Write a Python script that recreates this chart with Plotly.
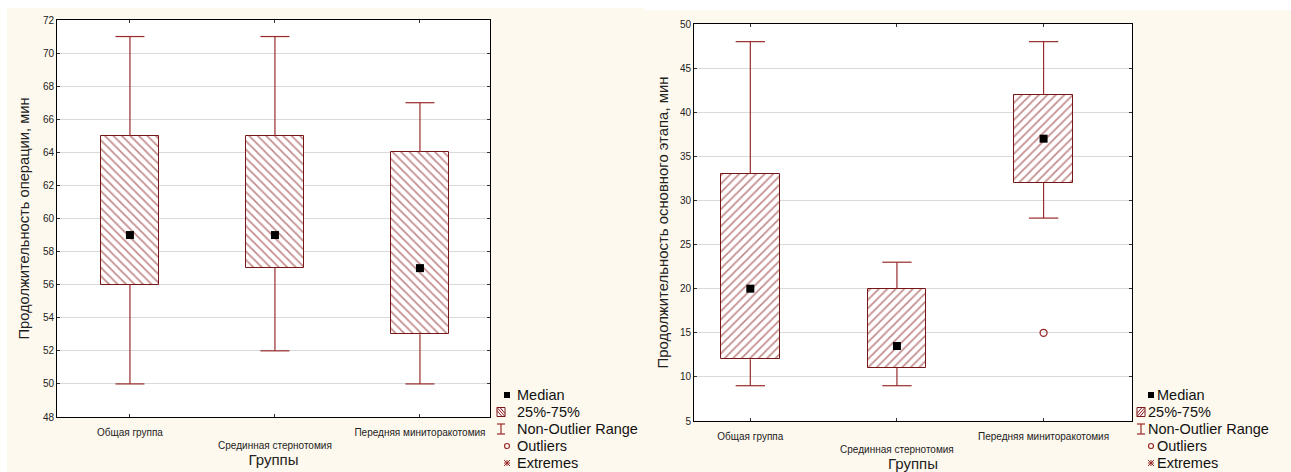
import plotly.graph_objects as go

W, H = 1291, 472

groups = ["Общая группа", "Срединная стернотомия", "Передняя миниторакотомия"]
group_ticks = ["Общая группа", "<br>Срединная стернотомия", "Передняя миниторакотомия"]

# Продолжительность операции, мин
op_min = [50, 52, 50]
op_q1 = [56, 57, 53]
op_med = [59, 59, 57]
op_q3 = [65, 65, 64]
op_max = [71, 71, 67]

# Продолжительность основного этапа, мин
st_min = [9, 9, 28]
st_q1 = [12, 11, 32]
st_med = [20, 13.5, 37]
st_q3 = [33, 20, 42]
st_max = [48, 23, 48]
st_out_group = [2]
st_out_val = [15]

legend_labels = ["Median", "25%-75%", "Non-Outlier Range", "Outliers", "Extremes"]

CREAM = "#fef9ee"
BOX_EDGE = "#761616"
HATCH = "#8a1c1c"
WHISK = "#9a2a2a"
FONT = "Liberation Sans, Arial, sans-serif"


def px(x):
    return x / W


def py(y):
    return 1 - y / H


def whiskers(lo, q1, q3, hi, half=0.1):
    xs, ys = [], []
    for i in range(len(lo)):
        xs += [i, i, None, i - half, i + half, None, i, i, None, i - half, i + half, None]
        ys += [lo[i], q1[i], None, lo[i], lo[i], None, q3[i], hi[i], None, hi[i], hi[i], None]
    return xs, ys


fig = go.Figure()


def add_panel(lo, q1, med, q3, hi, hatch, xa, ya):
    cats = list(range(len(groups)))
    fig.add_trace(go.Bar(
        x=cats, y=[b - a for a, b in zip(q1, q3)], base=q1, width=0.4,
        marker=dict(color="white", line=dict(color=BOX_EDGE, width=1),
                    pattern=dict(shape=hatch, fgcolor=HATCH, bgcolor="white",
                                 size=6, solidity=0.3)),
        xaxis=xa, yaxis=ya, showlegend=False, hoverinfo="skip"))
    wx, wy = whiskers(lo, q1, q3, hi)
    fig.add_trace(go.Scatter(x=wx, y=wy, mode="lines", line=dict(color=WHISK, width=1.2),
                             xaxis=xa, yaxis=ya, showlegend=False, hoverinfo="skip"))
    fig.add_trace(go.Scatter(x=cats, y=med, mode="markers",
                             marker=dict(symbol="square", size=8, color="black"),
                             xaxis=xa, yaxis=ya, showlegend=False))


add_panel(op_min, op_q1, op_med, op_q3, op_max, "\\", "x", "y")
add_panel(st_min, st_q1, st_med, st_q3, st_max, "/", "x2", "y2")
fig.add_trace(go.Scatter(x=st_out_group, y=st_out_val, mode="markers",
                         marker=dict(symbol="circle-open", size=7, color=WHISK, line=dict(width=1.3)),
                         xaxis="x2", yaxis="y2", showlegend=False))

axis_common = dict(showline=True, linecolor="black", linewidth=1, mirror="ticks",
                   ticks="inside", ticklen=3, tickcolor="#333", automargin=False,
                   tickfont=dict(family=FONT, size=10, color="#222"), zeroline=False)

fig.update_layout(
    width=W, height=H, margin=dict(l=0, r=0, t=0, b=0, pad=0),
    paper_bgcolor="white", plot_bgcolor="white", showlegend=False,
    bargap=0,
    xaxis=dict(domain=[px(57), px(490)], range=[-0.503, 2.483], tickvals=[0, 1, 2],
               ticktext=group_ticks, showgrid=False, anchor="y", ticklabelstandoff=6,
               title=dict(text="Группы", font=dict(family=FONT, size=15, color="#222"), standoff=4),
               **axis_common),
    yaxis=dict(domain=[py(417), py(20)], range=[48, 72], dtick=2, anchor="x",
               showgrid=True, gridcolor="#dadada", gridwidth=1,
               title=dict(text="Продолжительность операции, мин",
                          font=dict(family=FONT, size=14.7, color="#222"), standoff=9),
               **axis_common),
    xaxis2=dict(domain=[px(694), px(1132)], range=[-0.384, 2.603], tickvals=[0, 1, 2],
                ticktext=group_ticks, showgrid=False, anchor="y2", ticklabelstandoff=6,
                title=dict(text="Группы", font=dict(family=FONT, size=15, color="#222"), standoff=4),
                **axis_common),
    yaxis2=dict(domain=[py(421), py(24)], range=[5, 50], dtick=5, anchor="x2",
                showgrid=True, gridcolor="#dadada", gridwidth=1,
                title=dict(text="Продолжительность основного этапа, мин",
                           font=dict(family=FONT, size=14.9, color="#222"), standoff=7),
                **axis_common),
)

shapes = [
    dict(type="rect", xref="paper", yref="paper", x0=px(7), x1=px(645), y0=0, y1=py(8),
         fillcolor=CREAM, line=dict(width=0), layer="below"),
    dict(type="rect", xref="paper", yref="paper", x0=px(645), x1=1, y0=0, y1=py(10),
         fillcolor=CREAM, line=dict(width=0), layer="below"),
    dict(type="rect", xref="x domain", yref="y domain", x0=0, x1=1, y0=0, y1=1,
         fillcolor="white", line=dict(width=0), layer="below"),
    dict(type="rect", xref="x2 domain", yref="y2 domain", x0=0, x1=1, y0=0, y1=1,
         fillcolor="white", line=dict(width=0), layer="below"),
]
annotations = []


def seg(x0, y0, x1, y1, color, width=1.0):
    shapes.append(dict(type="line", xref="paper", yref="paper", x0=px(x0), y0=py(y0),
                       x1=px(x1), y1=py(y1), line=dict(color=color, width=width)))


def legend(box_x, text_x, text_x2, hatch_dir, med_x):
    rows = [395, 412, 429, 446, 463]
    # Median
    shapes.append(dict(type="rect", xref="paper", yref="paper",
                       x0=px(med_x - 3), x1=px(med_x + 3), y0=py(rows[0] + 3), y1=py(rows[0] - 3),
                       fillcolor="black", line=dict(width=0)))
    # 25%-75%
    x0, x1, y0, y1 = box_x, box_x + 8, rows[1] - 4.5, rows[1] + 4.5
    shapes.append(dict(type="rect", xref="paper", yref="paper", x0=px(x0), x1=px(x1),
                       y0=py(y1), y1=py(y0), fillcolor="white",
                       line=dict(color=BOX_EDGE, width=1)))
    if hatch_dir == "\\":
        seg(x0, y0 + 3, x1 - 3, y1, HATCH)
        seg(x0 + 3, y0, x1, y1 - 3, HATCH)
        seg(x0, y0, x1, y1, HATCH)
    else:
        seg(x0, y1 - 3, x1 - 3, y0, HATCH)
        seg(x0 + 3, y1, x1, y0 + 3, HATCH)
        seg(x0, y1, x1, y0, HATCH)
    # Non-Outlier Range
    cx = box_x + 4
    seg(cx, rows[2] - 5, cx, rows[2] + 5, WHISK, 1.2)
    seg(cx - 4, rows[2] - 5, cx + 4, rows[2] - 5, WHISK, 1.2)
    seg(cx - 4, rows[2] + 5, cx + 4, rows[2] + 5, WHISK, 1.2)
    # Outliers
    shapes.append(dict(type="circle", xref="paper", yref="paper",
                       x0=px(med_x - 2.5), x1=px(med_x + 2.5), y0=py(rows[3] + 2.5), y1=py(rows[3] - 2.5),
                       line=dict(color=WHISK, width=1.2)))
    # Extremes
    r = 3
    seg(med_x - r, rows[4], med_x + r, rows[4], WHISK)
    seg(med_x, rows[4] - r, med_x, rows[4] + r, WHISK)
    seg(med_x - r, rows[4] - r, med_x + r, rows[4] + r, WHISK)
    seg(med_x - r, rows[4] + r, med_x + r, rows[4] - r, WHISK)
    for i, (lab, y) in enumerate(zip(legend_labels, rows)):
        tx = text_x if i in (0, 3, 4) else text_x2
        annotations.append(dict(text=lab, xref="paper", yref="paper", x=px(tx), y=py(y),
                                xanchor="left", yanchor="middle", showarrow=False,
                                font=dict(family=FONT, size=14.5, color="#111")))


legend(497, 515, 515, "\\", 507)
legend(1137, 1155, 1146, "/", 1151)

fig.update_layout(shapes=shapes, annotations=annotations)

fig.write_html("out.html")
